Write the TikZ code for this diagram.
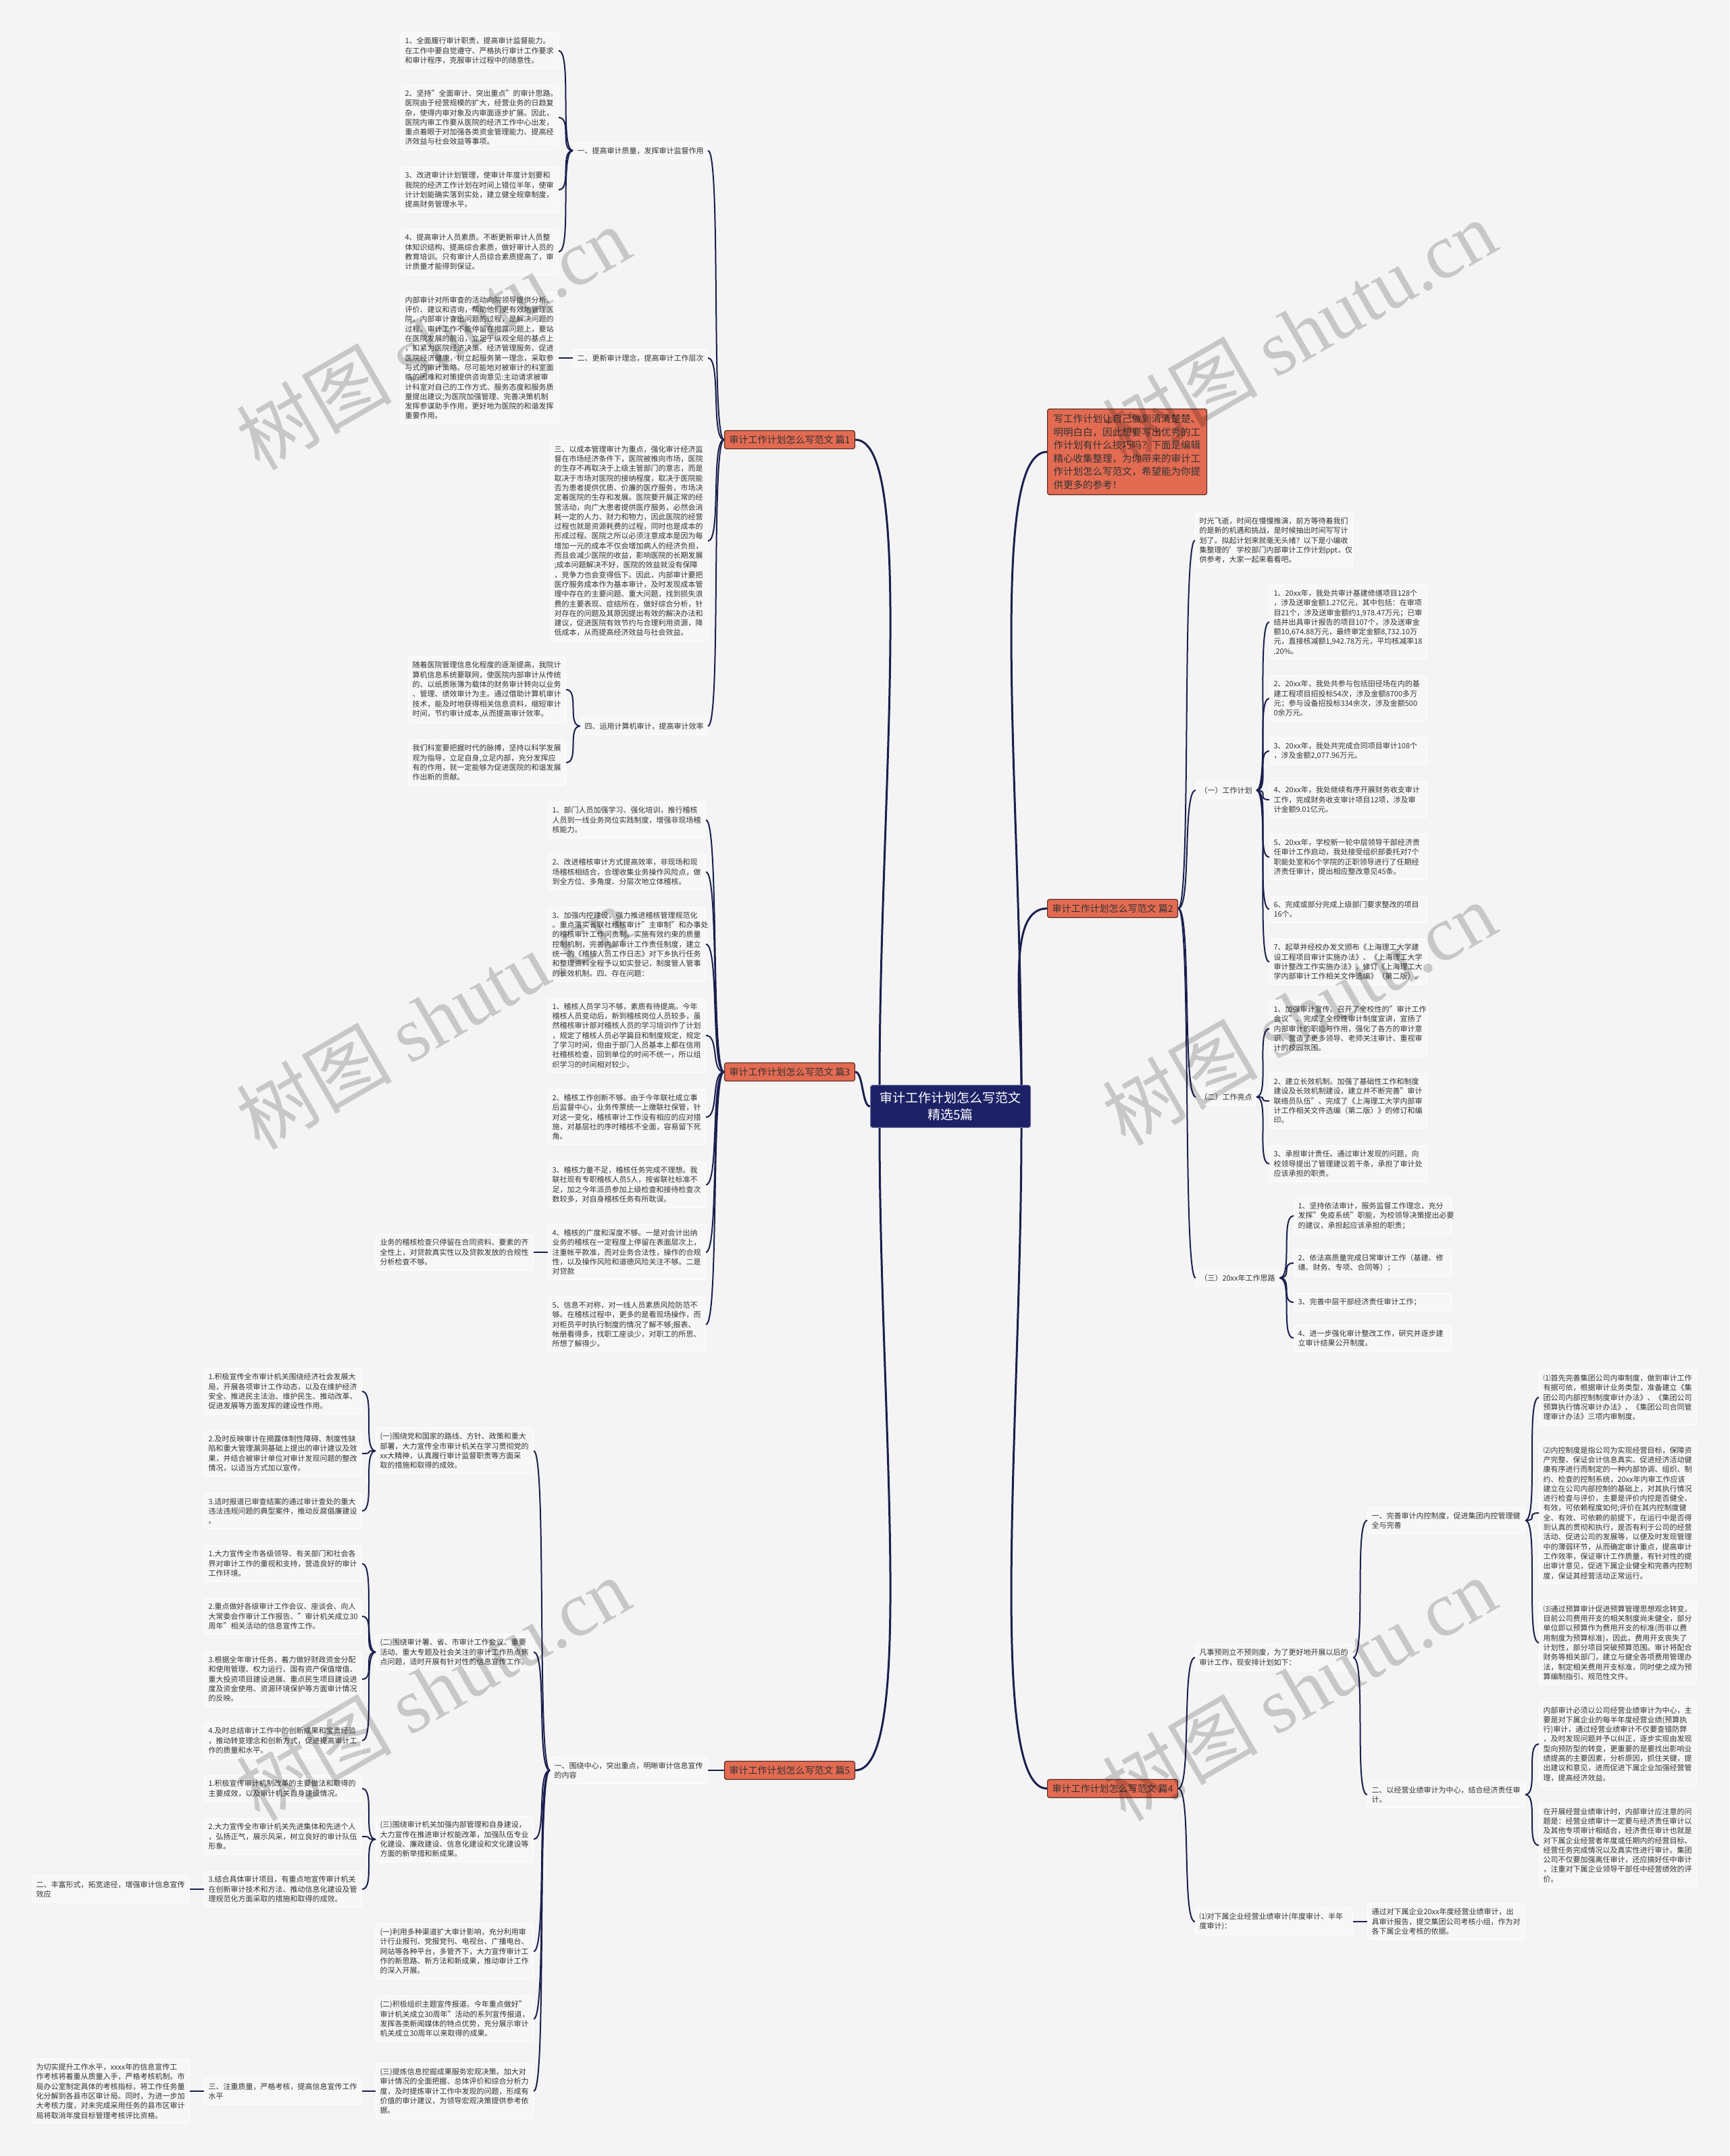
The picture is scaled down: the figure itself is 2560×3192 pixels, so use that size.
\documentclass[tikz,border=0pt]{standalone}
\usepackage{fontspec}
\setmainfont{Noto Sans CJK SC}
\newfontfamily\wmfont{Liberation Serif}
\definecolor{bgc}{HTML}{F4F4F4}
\definecolor{boxc}{HTML}{F7F7F7}
\definecolor{linec}{HTML}{1B1F4E}
\definecolor{rootc}{HTML}{1D2266}
\definecolor{topicc}{HTML}{E36B52}
\definecolor{topicb}{HTML}{5A2A22}
\definecolor{txtc}{HTML}{333333}

\begin{document}
\begin{tikzpicture}[x=1pt, y=-1pt,
    every node/.style={text=txtc},
    root/.style={rectangle, rounded corners=3pt, fill=rootc, draw=rootc!60!white,
                 line width=1pt, text=white, align=center, inner xsep=14pt, inner ysep=10pt,
                 font=\fontsize{19}{25}\selectfont},
    topic/.style={rectangle, rounded corners=3pt, fill=topicc, draw=topicb, line width=1.2pt,
                  inner xsep=7pt, inner ysep=7pt, font=\fontsize{14}{17}\selectfont},
    intro/.style={topic, text width=218pt, align=left, inner xsep=9pt, inner ysep=8pt,
                  font=\fontsize{14.5}{19.5}\selectfont},
    sub/.style={rectangle, rounded corners=4pt, fill=boxc, draw=white, line width=1pt,
                inner xsep=6pt, inner ysep=7pt, font=\fontsize{11}{14.3}\selectfont},
    leaf/.style={sub, text width=221pt, align=left},
    link/.style={draw=linec, line width=2pt},
    trunk/.style={draw=linec, line width=3pt},
    lft/.style={out=180, in=0, distance=20pt},
    rgt/.style={out=0, in=180, distance=20pt},
    wm/.style={text=black, opacity=0.18, font=\fontsize{115}{115}\selectfont, rotate=30}
  ]
  \fill[bgc] (0,0) rectangle (2560,3192);

  % centre
  \node[root] (ctr) at (1407,1638) {审计工作计划怎么写范文\\精选5篇};

  % ---- left: 篇1
  \node[topic, anchor=east] (p1) at (1266,651) {审计工作计划怎么写范文 篇1};
  \node[sub, anchor=east] (s11) at (1048,223) {一、提高审计质量，发挥审计监督作用};
  \node[leaf, anchor=east] (a1) at (827,75) {1、全面履行审计职责，提高审计监督能力。\\在工作中要自觉遵守、严格执行审计工作要求\\和审计程序，克服审计过程中的随意性。};
  \node[leaf, anchor=east] (a2) at (827,174) {2、坚持"全面审计、突出重点"的审计思路。\\医院由于经营规模的扩大，经营业务的日趋复\\杂，使得内审对象及内审面逐步扩展。因此，\\医院内审工作要从医院的经济工作中心出发，\\重点着眼于对加强各类资金管理能力、提高经\\济效益与社会效益等事项。};
  \node[leaf, anchor=east] (a3) at (827,281) {3、改进审计计划管理，使审计年度计划要和\\我院的经济工作计划在时间上错位半年，使审\\计计划能确实落到实处，建立健全规章制度，\\提高财务管理水平。};
  \node[leaf, anchor=east] (a4) at (827,373) {4、提高审计人员素质。不断更新审计人员整\\体知识结构、提高综合素质，做好审计人员的\\教育培训。只有审计人员综合素质提高了，审\\计质量才能得到保证。};
  \node[sub, anchor=east] (s12) at (1048,530) {二、更新审计理念，提高审计工作层次};
  \node[leaf, anchor=east] (b1) at (827,530) {内部审计对所审查的活动向院领导提供分析、\\评价、建议和咨询，帮助他们更有效地管理医\\院。内部审计查出问题的过程，是解决问题的\\过程。审计工作不能停留在揭露问题上，要站\\在医院发展的前沿，立足于纵观全局的基点上\\，扣紧为医院经济决策、经济管理服务、促进\\医院经济健康，树立起服务第一理念，采取参\\与式的审计策略。尽可能地对被审计的科室面\\临的困难和对策提供咨询意见:主动请求被审\\计科室对自己的工作方式、服务态度和服务质\\量提出建议;为医院加强管理、完善决策机制\\发挥参谋助手作用，更好地为医院的和谐发挥\\重要作用。};
  \node[leaf, anchor=east] (c1) at (1048,801) {三、以成本管理审计为重点，强化审计经济监\\督在市场经济条件下，医院被推向市场，医院\\的生存不再取决于上级主管部门的意志，而是\\取决于市场对医院的接纳程度，取决于医院能\\否为患者提供优质、价廉的医疗服务，市场决\\定着医院的生存和发展。医院要开展正常的经\\营活动，向广大患者提供医疗服务，必然会消\\耗一定的人力、财力和物力，因此医院的经营\\过程也就是资源耗费的过程，同时也是成本的\\形成过程。医院之所以必须注意成本是因为每\\增加一元的成本不仅会增加病人的经济负担，\\而且会减少医院的收益，影响医院的长期发展\\;成本问题解决不好，医院的效益就没有保障\\，竞争力也会变得低下。因此，内部审计要把\\医疗服务成本作为基本审计，及时发现成本管\\理中存在的主要问题、重大问题，找到损失浪\\费的主要表现、症结所在，做好综合分析，针\\对存在的问题及其原因提出有效的解决办法和\\建议，促进医院有效节约与合理利用资源，降\\低成本，从而提高经济效益与社会效益。};
  \node[sub, anchor=east] (s14) at (1048,1075) {四、运用计算机审计，提高审计效率};
  \node[leaf, anchor=east] (d1) at (838,1021) {随着医院管理信息化程度的逐渐提高，我院计\\算机信息系统要联网，使医院内部审计从传统\\的、以纸质账簿为载体的财务审计转向以业务\\、管理、绩效审计为主。通过借助计算机审计\\技术，能及时地获得相关信息资料，缩短审计\\时间，节约审计成本,从而提高审计效率。};
  \node[leaf, anchor=east] (d2) at (838,1129) {我们科室要把握时代的脉搏，坚持以科学发展\\观为指导，立足自身,立足内部，充分发挥应\\有的作用，就一定能够为促进医院的和谐发展\\作出新的贡献。};

  % ---- left: 篇3
  \node[topic, anchor=east] (p3) at (1266,1587) {审计工作计划怎么写范文 篇3};
  \node[leaf, anchor=east] (e1) at (1045,1214) {1、部门人员加强学习、强化培训，推行稽核\\人员到一线业务岗位实践制度，增强非现场稽\\核能力。};
  \node[leaf, anchor=east] (e2) at (1045,1291) {2、改进稽核审计方式提高效率，非现场和现\\场稽核相结合，合理收集业务操作风险点，做\\到全方位、多角度、分层次地立体稽核。};
  \node[leaf, anchor=east] (e3) at (1045,1398) {3、加强内控建设，强力推进稽核管理规范化\\。重点落实省联社稽核审计"主审制"和办事处\\的稽核审计工作问责制。实施有效约束的质量\\控制机制，完善内部审计工作责任制度，建立\\统一的《稽核人员工作日志》对下乡执行任务\\和整理资料全程予以如实登记，制度管人管事\\的长效机制。四、存在问题：};
  \node[leaf, anchor=east] (e4) at (1045,1533) {1、稽核人员学习不够，素质有待提高。今年\\稽核人员变动后，新到稽核岗位人员较多，虽\\然稽核审计部对稽核人员的学习培训作了计划\\，规定了稽核人员必学篇目和制度规定，规定\\了学习时间，但由于部门人员基本上都在信用\\社稽核检查，回到单位的时间不统一，所以组\\织学习的时间相对较少。};
  \node[leaf, anchor=east] (e5) at (1045,1654) {2、稽核工作创新不够。由于今年联社成立事\\后监督中心，业务传票统一上缴联社保管，针\\对这一变化，稽核审计工作没有相应的应对措\\施，对基层社的序时稽核不全面，容易留下死\\角。};
  \node[leaf, anchor=east] (e6) at (1045,1754) {3、稽核力量不足，稽核任务完成不理想。我\\联社现有专职稽核人员5人，按省联社标准不\\足，加之今年派员参加上级检查和接待检查次\\数较多，对自身稽核任务有所耽误。};
  \node[leaf, anchor=east] (e7) at (1045,1854) {4、稽核的广度和深度不够。一是对会计出纳\\业务的稽核在一定程度上停留在表面层次上，\\注重帐平款准，而对业务合法性，操作的合规\\性，以及操作风险和道德风险关注不够。二是\\对贷款};
  \node[leaf, anchor=east] (e7c) at (790,1854) {业务的稽核检查只停留在合同资料、要素的齐\\全性上，对贷款真实性以及贷款发放的合规性\\分析检查不够。};
  \node[leaf, anchor=east] (e8) at (1045,1961) {5、信息不对称，对一线人员素质风险防范不\\够。在稽核过程中，更多的是看现场操作，而\\对柜员平时执行制度的情况了解不够;报表、\\帐册看得多，找职工座谈少，对职工的所思、\\所想了解得少。};

  % ---- left: 篇5
  \node[topic, anchor=east] (p5) at (1266,2621) {审计工作计划怎么写范文 篇5};
  \node[leaf, anchor=east] (m) at (1048,2621) {一、围绕中心，突出重点，明晰审计信息宣传\\的内容};
  \node[leaf, anchor=east] (n1) at (790,2148) {(一)围绕党和国家的路线、方针、政策和重大\\部署，大力宣传全市审计机关在学习贯彻党的\\xx大精神，认真履行审计监督职责等方面采\\取的措施和取得的成效。};
  \node[leaf, anchor=east] (n11) at (536,2060) {1.积极宣传全市审计机关围绕经济社会发展大\\局，开展各项审计工作动态，以及在维护经济\\安全、推进民主法治、维护民生、推动改革、\\促进发展等方面发挥的建设性作用。};
  \node[leaf, anchor=east] (n12) at (536,2152) {2.及时反映审计在揭露体制性障碍、制度性缺\\陷和重大管理漏洞基础上提出的审计建议及效\\果，并结合被审计单位对审计发现问题的整改\\情况，以适当方式加以宣传。};
  \node[leaf, anchor=east] (n13) at (536,2237) {3.适时报道已审查结案的通过审计查处的重大\\违法违规问题的典型案件，推动反腐倡廉建设\\。};
  \node[leaf, anchor=east] (n2) at (790,2446) {(二)围绕审计署、省、市审计工作会议、重要\\活动、重大专题及社会关注的审计工作热点焦\\点问题，适时开展有针对性的信息宣传工作。};
  \node[leaf, anchor=east] (n21) at (536,2315) {1.大力宣传全市各级领导、有关部门和社会各\\界对审计工作的重视和支持，营造良好的审计\\工作环境。};
  \node[leaf, anchor=east] (n22) at (536,2393) {2.重点做好各级审计工作会议、座谈会、向人\\大常委会作审计工作报告、"审计机关成立30\\周年"相关活动的信息宣传工作。};
  \node[leaf, anchor=east] (n23) at (536,2486) {3.根据全年审计任务，着力做好财政资金分配\\和使用管理、权力运行、国有资产保值增值、\\重大投资项目建设进展、重点民生项目建设进\\度及资金使用、资源环境保护等方面审计情况\\的反映。};
  \node[leaf, anchor=east] (n24) at (536,2577) {4.及时总结审计工作中的创新成果和宝贵经验\\，推动转变理念和创新方式，促进提高审计工\\作的质量和水平。};
  \node[leaf, anchor=east] (n3) at (790,2723) {(三)围绕审计机关加强内部管理和自身建设，\\大力宣传在推进审计权能改革，加强队伍专业\\化建设、廉政建设、信息化建设和文化建设等\\方面的新举措和新成果。};
  \node[leaf, anchor=east] (n31) at (536,2648) {1.积极宣传审计机制改革的主要做法和取得的\\主要成效，以及审计机关自身建设情况。};
  \node[leaf, anchor=east] (n32) at (536,2719) {2.大力宣传全市审计机关先进集体和先进个人\\，弘扬正气，展示风采，树立良好的审计队伍\\形象。};
  \node[leaf, anchor=east] (n33) at (536,2797) {3.结合具体审计项目，有重点地宣传审计机关\\在创新审计技术和方法、推动信息化建设及管\\理规范化方面采取的措施和取得的成效。};
  \node[leaf, anchor=east] (u2) at (281,2797) {二、丰富形式，拓宽途径，增强审计信息宣传\\效应};
  \node[leaf, anchor=east] (r1) at (790,2889) {(一)利用多种渠道扩大审计影响，充分利用审\\计行业报刊、党报党刊、电视台、广播电台、\\网站等各种平台，多管齐下，大力宣传审计工\\作的新思路、新方法和新成果，推动审计工作\\的深入开展。};
  \node[leaf, anchor=east] (r2) at (790,2989) {(二)积极组织主题宣传报道。今年重点做好"\\审计机关成立30周年"活动的系列宣传报道，\\发挥各类新闻媒体的特点优势，充分展示审计\\机关成立30周年以来取得的成果。};
  \node[leaf, anchor=east] (r3) at (790,3096) {(三)提炼信息挖掘成果服务宏观决策。加大对\\审计情况的全面把握、总体评价和综合分析力\\度，及时提炼审计工作中发现的问题，形成有\\价值的审计建议，为领导宏观决策提供参考依\\据。};
  \node[leaf, anchor=east] (u3) at (536,3096) {三、注重质量，严格考核，提高信息宣传工作\\水平};
  \node[leaf, anchor=east] (u4) at (281,3096) {为切实提升工作水平，xxxx年的信息宣传工\\作考核将着重从质量入手，严格考核机制。市\\局办公室制定具体的考核指标，将工作任务量\\化分解到各县市区审计局。同时，为进一步加\\大考核力度，对未完成采用任务的县市区审计\\局将取消年度目标管理考核评比资格。};

  % ---- right: intro and 篇2
  \node[intro, anchor=west] (intro) at (1550,669) {写工作计划让自己做到清清楚楚、\\明明白白，因此想要写出优秀的工\\作计划有什么技巧吗？下面是编辑\\精心收集整理，为你带来的审计工\\作计划怎么写范文，希望能为你提\\供更多的参考！};
  \node[topic, anchor=west] (p2) at (1550,1345) {审计工作计划怎么写范文 篇2};
  \node[leaf, anchor=west] (f0) at (1769,800) {时光飞逝，时间在慢慢推演，前方等待着我们\\的是新的机遇和挑战，是时候抽出时间写写计\\划了。拟起计划来就毫无头绪？以下是小编收\\集整理的'学校部门内部审计工作计划ppt，仅\\供参考，大家一起来看看吧。};
  \node[sub, anchor=west] (gl) at (1770,1170) {（一）工作计划};
  \node[leaf, anchor=west] (g1) at (1879,921) {1、20xx年，我处共审计基建修缮项目128个\\，涉及送审金额1.27亿元，其中包括：在审项\\目21个，涉及送审金额约1,978.47万元；已审\\结并出具审计报告的项目107个，涉及送审金\\额10,674.88万元，最终审定金额8,732.10万\\元，直接核减额1,942.78万元，平均核减率18\\.20\%。};
  \node[leaf, anchor=west] (g2) at (1879,1034) {2、20xx年，我处共参与包括田径场在内的基\\建工程项目招投标54次，涉及金额8700多万\\元；参与设备招投标334余次，涉及金额500\\0余万元。};
  \node[leaf, anchor=west] (g3) at (1879,1112) {3、20xx年，我处共完成合同项目审计108个\\，涉及金额2,077.96万元。};
  \node[leaf, anchor=west] (g4) at (1879,1184) {4、20xx年，我处继续有序开展财务收支审计\\工作，完成财务收支审计项目12项，涉及审\\计金额9.01亿元。};
  \node[leaf, anchor=west] (g5) at (1879,1269) {5、20xx年，学校新一轮中层领导干部经济责\\任审计工作启动，我处接受组织部委托对7个\\职能处室和6个学院的正职领导进行了任期经\\济责任审计，提出相应整改意见45条。};
  \node[leaf, anchor=west] (g6) at (1879,1346) {6、完成或部分完成上级部门要求整改的项目\\16个。};
  \node[leaf, anchor=west] (g7) at (1879,1424) {7、起草并经校办发文颁布《上海理工大学建\\设工程项目审计实施办法》、《上海理工大学\\审计整改工作实施办法》，修订《上海理工大\\学内部审计工作相关文件选编》（第二版）。};
  \node[sub, anchor=west] (hl) at (1770,1624) {（二）工作亮点};
  \node[leaf, anchor=west] (h1) at (1879,1523) {1、加强审计宣传。召开了全校性的"审计工作\\会议"、完成了全校性审计制度宣讲，宣扬了\\内部审计的职能与作用，强化了各方的审计意\\识、营造了更多领导、老师关注审计、重视审\\计的校园氛围。};
  \node[leaf, anchor=west] (h2) at (1879,1630) {2、建立长效机制。加强了基础性工作和制度\\建设及长效机制建设，建立并不断完善"审计\\联络员队伍"、完成了《上海理工大学内部审\\计工作相关文件选编（第二版）》的修订和编\\印。};
  \node[leaf, anchor=west] (h3) at (1879,1723) {3、承担审计责任。通过审计发现的问题，向\\校领导提出了管理建议若干条，承担了审计处\\应该承担的职责。};
  \node[sub, anchor=west] (il) at (1770,1892) {（三）20xx年工作思路};
  \node[leaf, anchor=west] (i1) at (1915,1800) {1、坚持依法审计，服务监督工作理念，充分\\发挥"免疫系统"职能，为校领导决策提出必要\\的建议，承担起应该承担的职责；};
  \node[leaf, anchor=west] (i2) at (1915,1870) {2、依法高质量完成日常审计工作（基建、修\\缮、财务、专项、合同等）；};
  \node[leaf, anchor=west] (i3) at (1915,1928) {3、完善中层干部经济责任审计工作；};
  \node[leaf, anchor=west] (i4) at (1915,1981) {4、进一步强化审计整改工作，研究并逐步建\\立审计结果公开制度。};

  % ---- right: 篇4
  \node[topic, anchor=west] (p4) at (1550,2648) {审计工作计划怎么写范文 篇4};
  \node[leaf, anchor=west] (j0) at (1769,2454) {凡事预则立不预则废，为了更好地开展以后的\\审计工作，现安排计划如下：};
  \node[leaf, anchor=west] (j1) at (2024,2251) {一、完善审计内控制度，促进集团内控管理健\\全与完善};
  \node[leaf, anchor=west] (j11) at (2278,2069) {⑴首先完善集团公司内审制度，做到审计工作\\有据可依，根据审计业务类型，准备建立《集\\团公司内部控制制度审计办法》、《集团公司\\预算执行情况审计办法》、《集团公司合同管\\理审计办法》三项内审制度。};
  \node[leaf, anchor=west] (j12) at (2278,2240) {⑵内控制度是指公司为实现经营目标，保障资\\产完整、保证会计信息真实、促进经济活动健\\康有序进行而制定的一种内部协调、组织、制\\约、检查的控制系统，20xx年内审工作应该\\建立在公司内部控制的基础上，对其执行情况\\进行检查与评价，主要是评价内控是否健全、\\有效，可依赖程度如何;评价在其内控制度健\\全、有效、可依赖的前提下，在运行中是否得\\到认真的贯彻和执行，是否有利于公司的经营\\活动、促进公司的发展等，以便及时发现管理\\中的薄弱环节，从而确定审计重点，提高审计\\工作效率，保证审计工作质量，有针对性的提\\出审计意见，促进下属企业健全和完善内控制\\度，保证其经营活动正常运行。};
  \node[leaf, anchor=west] (j13) at (2278,2432) {⑶通过预算审计促进预算管理思想观念转变。\\目前公司费用开支的相关制度尚未健全，部分\\单位即以预算作为费用开支的标准(而非以费\\用制度为预算标准)，因此，费用开支丧失了\\计划性，部分项目突破预算范围。审计将配合\\财务等相关部门，建立与健全各项费用管理办\\法，制定相关费用开支标准，同时使之成为预\\算编制指引、规范性文件。};
  \node[leaf, anchor=west] (j2) at (2024,2657) {二、以经营业绩审计为中心，结合经济责任审\\计。};
  \node[leaf, anchor=west] (j21) at (2278,2582) {内部审计必须以公司经营业绩审计为中心，主\\要是对下属企业的每半年度经营业绩(预算执\\行)审计，通过经营业绩审计不仅要查错防弊\\，及时发现问题并予以纠正，逐步实现由发现\\型向预防型的转变，更重要的是要找出影响业\\绩提高的主要因素，分析原因，抓住关键，提\\出建议和意见，进而促进下属企业加强经营管\\理，提高经济效益。};
  \node[leaf, anchor=west] (j22) at (2278,2732) {在开展经营业绩审计时，内部审计应注意的问\\题是：经营业绩审计一定要与经济责任审计以\\及其他专项审计相结合，经济责任审计也就是\\对下属企业经营者年度或任期内的经营目标、\\经营任务完成情况以及真实性进行审计。集团\\公司不仅要加强离任审计，还应搞好任中审计\\，注重对下属企业领导干部任中经营绩效的评\\价。};
  \node[leaf, anchor=west] (k) at (1769,2845) {⑴对下属企业经营业绩审计(年度审计、半年\\度审计)：};
  \node[leaf, anchor=west] (k1) at (2024,2845) {通过对下属企业20xx年度经营业绩审计，出\\具审计报告，提交集团公司考核小组，作为对\\各下属企业考核的依据。};

  % trunk lines from the centre
  \draw[trunk] ([xshift=14pt]ctr.north west) .. controls +(0,-420) and +(90,0) .. (p1.east);
  \draw[trunk] (ctr.west) .. controls +(-12,0) and +(12,0) .. (p3.east);
  \draw[trunk] ([xshift=14pt]ctr.south west) .. controls +(0,420) and +(90,0) .. (p5.east);
  \draw[trunk] ([xshift=-14pt]ctr.north east) .. controls +(0,-420) and +(-90,0) .. (intro.west);
  \draw[trunk] ([xshift=-14pt]ctr.north east) .. controls +(0,-120) and +(-60,0) .. (p2.west);
  \draw[trunk] ([xshift=-14pt]ctr.south east) .. controls +(0,420) and +(-90,0) .. (p4.west);

  % 篇1
  \draw[link] (p1.west) to[lft] (s11.east);
  \draw[link] (p1.west) to[lft] (s12.east);
  \draw[link] (p1.west) to[lft] (c1.east);
  \draw[link] (p1.west) to[lft] (s14.east);
  \draw[link] (s11.west) to[lft] (a1.east);
  \draw[link] (s11.west) to[lft] (a2.east);
  \draw[link] (s11.west) to[lft] (a3.east);
  \draw[link] (s11.west) to[lft] (a4.east);
  \draw[link] (s12.west) to[lft] (b1.east);
  \draw[link] (s14.west) to[lft] (d1.east);
  \draw[link] (s14.west) to[lft] (d2.east);

  % 篇3
  \draw[link] (p3.west) to[lft] (e1.east);
  \draw[link] (p3.west) to[lft] (e2.east);
  \draw[link] (p3.west) to[lft] (e3.east);
  \draw[link] (p3.west) to[lft] (e4.east);
  \draw[link] (p3.west) to[lft] (e5.east);
  \draw[link] (p3.west) to[lft] (e6.east);
  \draw[link] (p3.west) to[lft] (e7.east);
  \draw[link] (p3.west) to[lft] (e8.east);
  \draw[link] (e7.west) to[lft] (e7c.east);

  % 篇5
  \draw[link] (p5.west) to[lft] (m.east);
  \draw[link] (m.west) to[lft] (n1.east);
  \draw[link] (m.west) to[lft] (n2.east);
  \draw[link] (m.west) to[lft] (n3.east);
  \draw[link] (m.west) to[lft] (r1.east);
  \draw[link] (m.west) to[lft] (r2.east);
  \draw[link] (m.west) to[lft] (r3.east);
  \draw[link] (n1.west) to[lft] (n11.east);
  \draw[link] (n1.west) to[lft] (n12.east);
  \draw[link] (n1.west) to[lft] (n13.east);
  \draw[link] (n2.west) to[lft] (n21.east);
  \draw[link] (n2.west) to[lft] (n22.east);
  \draw[link] (n2.west) to[lft] (n23.east);
  \draw[link] (n2.west) to[lft] (n24.east);
  \draw[link] (n3.west) to[lft] (n31.east);
  \draw[link] (n3.west) to[lft] (n32.east);
  \draw[link] (n3.west) to[lft] (n33.east);
  \draw[link] (n33.west) to[lft] (u2.east);
  \draw[link] (r3.west) to[lft] (u3.east);
  \draw[link] (u3.west) to[lft] (u4.east);

  % 篇2
  \draw[link] (p2.east) to[rgt] (f0.west);
  \draw[link] (p2.east) to[rgt] (gl.west);
  \draw[link] (p2.east) to[rgt] (hl.west);
  \draw[link] (p2.east) to[rgt] (il.west);
  \draw[link] (gl.east) to[rgt] (g1.west);
  \draw[link] (gl.east) to[rgt] (g2.west);
  \draw[link] (gl.east) to[rgt] (g3.west);
  \draw[link] (gl.east) to[rgt] (g4.west);
  \draw[link] (gl.east) to[rgt] (g5.west);
  \draw[link] (gl.east) to[rgt] (g6.west);
  \draw[link] (gl.east) to[rgt] (g7.west);
  \draw[link] (hl.east) to[rgt] (h1.west);
  \draw[link] (hl.east) to[rgt] (h2.west);
  \draw[link] (hl.east) to[rgt] (h3.west);
  \draw[link] (il.east) to[rgt] (i1.west);
  \draw[link] (il.east) to[rgt] (i2.west);
  \draw[link] (il.east) to[rgt] (i3.west);
  \draw[link] (il.east) to[rgt] (i4.west);

  % 篇4
  \draw[link] (p4.east) to[rgt] (j0.west);
  \draw[link] (p4.east) to[rgt] (k.west);
  \draw[link] (j0.east) to[rgt] (j1.west);
  \draw[link] (j0.east) to[rgt] (j2.west);
  \draw[link] (j1.east) to[rgt] (j11.west);
  \draw[link] (j1.east) to[rgt] (j12.west);
  \draw[link] (j1.east) to[rgt] (j13.west);
  \draw[link] (j2.east) to[rgt] (j21.west);
  \draw[link] (j2.east) to[rgt] (j22.west);
  \draw[link] (k.east) to[rgt] (k1.west);

  % watermark
  \node[wm] (wm1) at (641,500) {树图 {\wmfont shutu.cn}};
  \node[wm] (wm2) at (1923,490) {树图 {\wmfont shutu.cn}};
  \node[wm] (wm3) at (641,1506) {树图 {\wmfont shutu.cn}};
  \node[wm] (wm4) at (1923,1500) {树图 {\wmfont shutu.cn}};
  \node[wm] (wm5) at (641,2500) {树图 {\wmfont shutu.cn}};
  \node[wm] (wm6) at (1923,2500) {树图 {\wmfont shutu.cn}};
\end{tikzpicture}
\end{document}
